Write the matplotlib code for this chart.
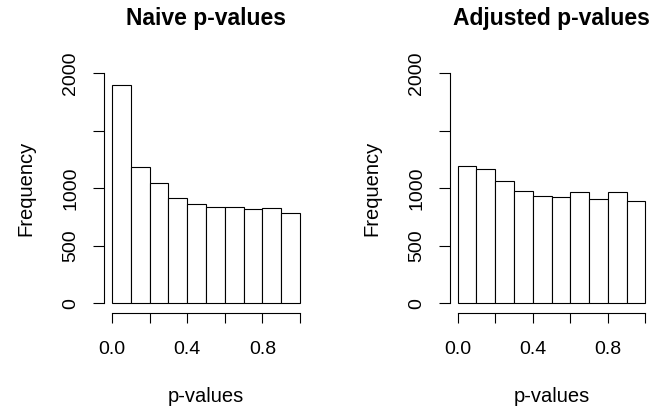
import matplotlib
matplotlib.use("Agg")
import matplotlib.pyplot as plt
import numpy as np

plt.rcParams['font.family'] = ['Liberation Sans', 'DejaVu Sans']

# bin edges of both histograms (p-values in [0, 1])
bin_edges = [0.0, 0.1, 0.2, 0.3, 0.4, 0.5, 0.6, 0.7, 0.8, 0.9, 1.0]

# counts
naive_counts = [1895, 1188, 1046, 918, 866, 835, 835, 817, 826, 785]
adjusted_counts = [1194, 1165, 1064, 977, 936, 927, 965, 910, 971, 893]

panel_titles = ['Naive p-values', 'Adjusted p-values']
y_ticks = [0, 500, 1000, 1500, 2000]
y_ticklabels = ['0', '500', '1000', '', '2000']
x_ticks = [0.0, 0.2, 0.4, 0.6, 0.8, 1.0]
x_ticklabels = ['0.0', '', '0.4', '', '0.8', '']

W, H = 664, 409
fig = plt.figure(figsize=(W / 100, H / 100), dpi=100)

# plot regions in pixels (left, top, right, bottom)
regions = [(104.5, 64.1, 307.5, 312.5), (450.2, 64.1, 652.8, 312.5)]

for reg, counts, title in zip(regions, [naive_counts, adjusted_counts], panel_titles):
    l, t, r, b = reg
    ax = fig.add_axes([l / W, 1 - b / H, (r - l) / W, (b - t) / H])
    edges = np.array(bin_edges)
    ax.bar(edges[:-1], counts, width=np.diff(edges), align='edge',
           facecolor='white', edgecolor='black', linewidth=0.8)
    ax.set_xlim(-0.04, 1.04)
    ax.set_ylim(-80, 2080)

    for side in ['top', 'right']:
        ax.spines[side].set_visible(False)
    ax.spines['left'].set_bounds(0, 2000)
    ax.spines['bottom'].set_bounds(0, 1)
    for side in ['left', 'bottom']:
        ax.spines[side].set_linewidth(0.8)

    ax.set_yticks(y_ticks)
    ax.set_yticklabels(y_ticklabels, rotation=90, va='center')
    ax.set_xticks(x_ticks)
    ax.set_xticklabels(x_ticklabels)
    ax.tick_params(axis='y', length=8, width=0.8, pad=10, labelsize=14)
    ax.tick_params(axis='x', length=7.5, width=0.8, pad=13, labelsize=14)

    ax.set_xlabel('p-values', fontsize=14.5, va='baseline')
    ax.xaxis.set_label_coords(0.5, (b - 402) / (b - t))
    ax.set_ylabel('Frequency', fontsize=14.5, va='center')
    ax.yaxis.set_label_coords((l - 78.7 - l) / (r - l), 0.5)

    ax.set_title(title, fontsize=16.5, fontweight='bold', va='baseline',
                 y=1 + (t - 25) / (b - t), pad=0)

fig.savefig('out.png', dpi=100)
